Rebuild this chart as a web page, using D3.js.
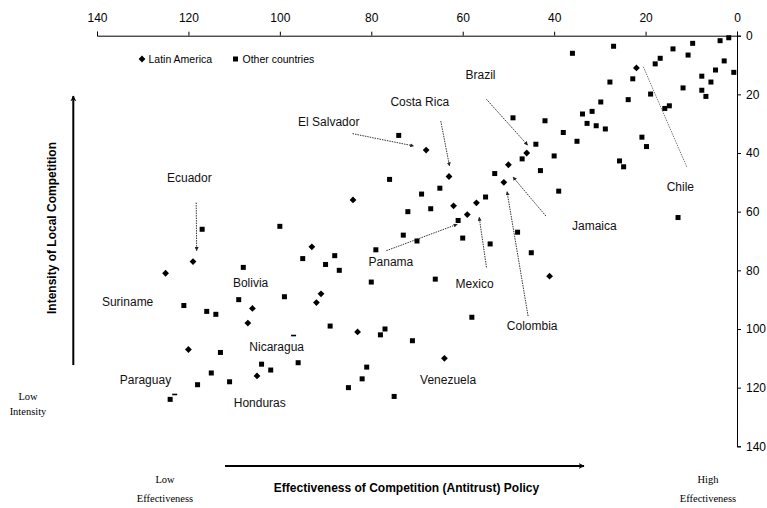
<!DOCTYPE html>
<html>
<head>
<meta charset="utf-8">
<script src="https://cdn.jsdelivr.net/npm/d3@7/dist/d3.min.js"></script>
<style>
  body { margin: 0; background: #fff; }
  svg { display: block; font-family: 'Liberation Sans', Arial, sans-serif; }
</style>
</head>
<body>
<svg></svg>
<script>
// Latin American countries: effectiveness rank (x) and intensity rank (y)
const latinEffectiveness = [119, 125, 93, 91, 92, 106, 107, 120, 105, 84, 83, 64, 62, 59, 57, 51, 41, 68, 63, 46, 50, 22]
const latinIntensity = [77, 81, 72, 88, 91, 93, 98, 107, 116, 56, 101, 110, 58, 61, 57, 50, 82, 39, 48, 40, 44, 11]

// Other countries
const otherEffectiveness = [
  117, 100, 95, 88, 90, 87, 108, 109, 99, 121, 116, 114, 89, 113, 104, 102, 96, 115, 118, 111, 124, 85, 81, 82, 75,
  69, 65, 55, 39, 72, 67, 61, 73, 70, 60, 54, 48, 45, 79, 80, 66, 77, 78, 71, 58, 76,
  36, 74, 49, 42, 38, 35, 44, 47, 40, 43, 53,
  27, 14, 9.7, 3.7, 1.8, 10.7, 16.8, 17.9, 2.8, 4.7, 0.7, 7.7, 5.7, 7.7, 6.8, 11.8, 22.8, 27.8, 18.9, 23.8,
  29.8, 31.7, 33.8, 32.8, 30.8, 28.8, 15.8, 14.8, 20.8, 19.8, 25.7, 24.8, 12.9
]
const otherIntensity = [
  66, 65, 76, 75, 78, 80, 79, 90, 89, 92, 94, 95, 99, 108, 112, 114, 111.5, 115, 119, 118, 124, 120, 113, 117, 123,
  54, 52, 55, 53, 60, 59, 63, 68, 70, 69, 71, 67, 74, 73, 84, 83, 100, 102, 104, 96, 49,
  6, 34, 28, 29, 33, 36, 37, 42, 41, 46, 47,
  3.6, 4.5, 2.6, 1.7, 0.7, 6.6, 7.7, 9.6, 8.6, 11.7, 12.5, 13.8, 15.8, 18.6, 20.7, 17.8, 14.7, 15.8, 19.9, 21.8,
  22.6, 25.8, 26.7, 29.9, 30.7, 31.8, 24.8, 23.9, 34.6, 37.8, 42.7, 44.7, 62
]

// half hidden markers, only a dash shows
const dashEffectiveness = [123, 97]
const dashIntensity = [122.4, 102.3]

const xTicks = [140, 120, 100, 80, 60, 40, 20, 0]
const yTicks = [0, 20, 40, 60, 80, 100, 120, 140]

// country labels (in chart units)
const labelNames = ['Ecuador', 'El Salvador', 'Costa Rica', 'Brazil', 'Chile', 'Jamaica', 'Colombia', 'Mexico', 'Panama',
  'Venezuela', 'Honduras', 'Paraguay', 'Nicaragua', 'Bolivia', 'Suriname']
const labelX = [119.8, 89.3, 69.4, 56.1, 12.4, 31.2, 44.8, 57.4, 75.7, 63.2, 104.4, 129.4, 100.7, 106.4, 133.3]
const labelY = [48.5, 29.4, 22.5, 13.4, 51.6, 64.8, 98.9, 84.6, 77.1, 117.2, 125.0, 117.4, 106.2, 84.2, 90.7]

// pointer arrows (from label towards the point)
const arrowFromX = [118.3, 84.1, 64.8, 54.8, 11.0, 41.8, 45.7, 54.8, 76.7]
const arrowFromY = [56.9, 33.4, 29.1, 21.7, 44.7, 61.5, 95.6, 79.0, 73.3]
const arrowToX = [118.2, 70.7, 62.9, 45.8, 20.5, 49.0, 50.3, 56.4, 61.2]
const arrowToY = [73.3, 37.6, 44.4, 37.3, 10.6, 48.2, 53.2, 61.9, 64.3]

const width = 767, height = 508

const svg = d3.select('svg')
  .attr('width', width)
  .attr('height', height)

const x = d3.scaleLinear().domain([140, 0]).range([97, 737])
const y = d3.scaleLinear().domain([0, 140]).range([35.7, 446.3])

const defs = svg.append('defs')
defs.append('marker')
  .attr('id', 'tip')
  .attr('viewBox', '0 0 10 10')
  .attr('refX', 9).attr('refY', 5)
  .attr('markerWidth', 4).attr('markerHeight', 4)
  .attr('orient', 'auto')
  .append('path')
  .attr('d', 'M0,0 L10,5 L0,10 Z')
  .attr('fill', '#222')
defs.append('marker')
  .attr('id', 'bigtip')
  .attr('viewBox', '0 0 10 10')
  .attr('refX', 9).attr('refY', 5)
  .attr('markerWidth', 6).attr('markerHeight', 6)
  .attr('markerUnits', 'userSpaceOnUse')
  .attr('orient', 'auto')
  .append('path')
  .attr('d', 'M0,0 L10,5 L0,10 L3,5 Z')
  .attr('fill', '#000')

// Axes
const xAxis = svg.append('g')
  .attr('transform', `translate(0,${y(0)})`)
  .call(d3.axisTop(x).tickValues(xTicks).tickSize(4).tickSizeOuter(4).tickPadding(10))
const yAxis = svg.append('g')
  .attr('transform', `translate(${x(0)},0)`)
  .call(d3.axisRight(y).tickValues(yTicks).tickSize(4).tickSizeOuter(4).tickPadding(5))

svg.selectAll('.tick text')
  .attr('font-family', "'Liberation Sans', Arial, sans-serif")
  .attr('font-size', 12)
  .attr('fill', '#000')
svg.selectAll('.domain, .tick line').attr('stroke', '#000')

// pointer arrows
svg.append('g').selectAll('line')
  .data(arrowFromX)
  .enter()
  .append('line')
  .attr('x1', (d, i) => x(arrowFromX[i]))
  .attr('y1', (d, i) => y(arrowFromY[i]))
  .attr('x2', (d, i) => x(arrowToX[i]))
  .attr('y2', (d, i) => y(arrowToY[i]))
  .attr('stroke', (d, i) => i === 4 ? '#777' : '#333')
  .attr('stroke-width', 1)
  .attr('stroke-dasharray', '1.5,1')
  .attr('marker-end', (d, i) => i === 4 ? null : 'url(#tip)')

// other countries: squares
svg.append('g').selectAll('rect')
  .data(otherEffectiveness)
  .enter()
  .append('rect')
  .attr('x', d => x(d) - 2.5)
  .attr('y', (d, i) => y(otherIntensity[i]) - 2.5)
  .attr('width', 5)
  .attr('height', 5)
  .attr('fill', '#000')

svg.append('g').selectAll('rect')
  .data(dashEffectiveness)
  .enter()
  .append('rect')
  .attr('x', d => x(d) - 2.5)
  .attr('y', (d, i) => y(dashIntensity[i]) - 1)
  .attr('width', 5)
  .attr('height', 1.6)
  .attr('fill', '#000')

// latin america: diamonds
const diamond = 'M0,-3.4 L3.4,0 L0,3.4 L-3.4,0 Z'
svg.append('g').selectAll('path')
  .data(latinEffectiveness)
  .enter()
  .append('path')
  .attr('d', diamond)
  .attr('transform', (d, i) => `translate(${x(d)},${y(latinIntensity[i])})`)
  .attr('fill', '#000')

// country labels
svg.append('g').selectAll('text')
  .data(labelNames)
  .enter()
  .append('text')
  .attr('x', (d, i) => x(labelX[i]))
  .attr('y', (d, i) => y(labelY[i]))
  .attr('dy', '0.35em')
  .attr('text-anchor', 'middle')
  .attr('font-size', 12)
  .attr('fill', '#111')
  .text(d => d)

// legend
const legend = svg.append('g').attr('font-size', 10.5)
legend.append('path').attr('d', diamond).attr('transform', 'translate(142,59)')
legend.append('text').attr('x', 148.5).attr('y', 59).attr('dy', '0.35em').text('Latin America')
legend.append('rect').attr('x', 233).attr('y', 56.5).attr('width', 5).attr('height', 5)
legend.append('text').attr('x', 242.5).attr('y', 59).attr('dy', '0.35em').text('Other countries')

// axis titles with big arrows
svg.append('line')
  .attr('x1', 73.3).attr('y1', 365).attr('x2', 73.3).attr('y2', 96)
  .attr('stroke', '#000').attr('stroke-width', 2)
  .attr('marker-end', 'url(#bigtip)')
svg.append('text')
  .attr('transform', 'translate(52,228) rotate(-90)')
  .attr('text-anchor', 'middle')
  .attr('dy', '0.35em')
  .attr('font-size', 12)
  .attr('font-weight', 'bold')
  .text('Intensity of Local Competition')

svg.append('line')
  .attr('x1', 225).attr('y1', 466).attr('x2', 584).attr('y2', 466)
  .attr('stroke', '#000').attr('stroke-width', 2)
  .attr('marker-end', 'url(#bigtip)')
svg.append('text')
  .attr('x', 406.5).attr('y', 488)
  .attr('text-anchor', 'middle')
  .attr('dy', '0.35em')
  .attr('font-size', 12)
  .attr('font-weight', 'bold')
  .text('Effectiveness of Competition (Antitrust) Policy')

// serif corner notes
const notes = [
  ['Low', 165, 479], ['Effectiveness', 165, 498],
  ['High', 708, 479], ['Effectiveness', 708, 498],
  ['Low', 28, 396], ['Intensity', 28, 411]
]
svg.append('g').selectAll('text')
  .data(notes)
  .enter()
  .append('text')
  .attr('x', d => d[1])
  .attr('y', d => d[2])
  .attr('dy', '0.35em')
  .attr('text-anchor', 'middle')
  .attr('font-family', "'Liberation Serif', 'Times New Roman', serif")
  .attr('font-size', 10.5)
  .text(d => d[0])
</script>
</body>
</html>
